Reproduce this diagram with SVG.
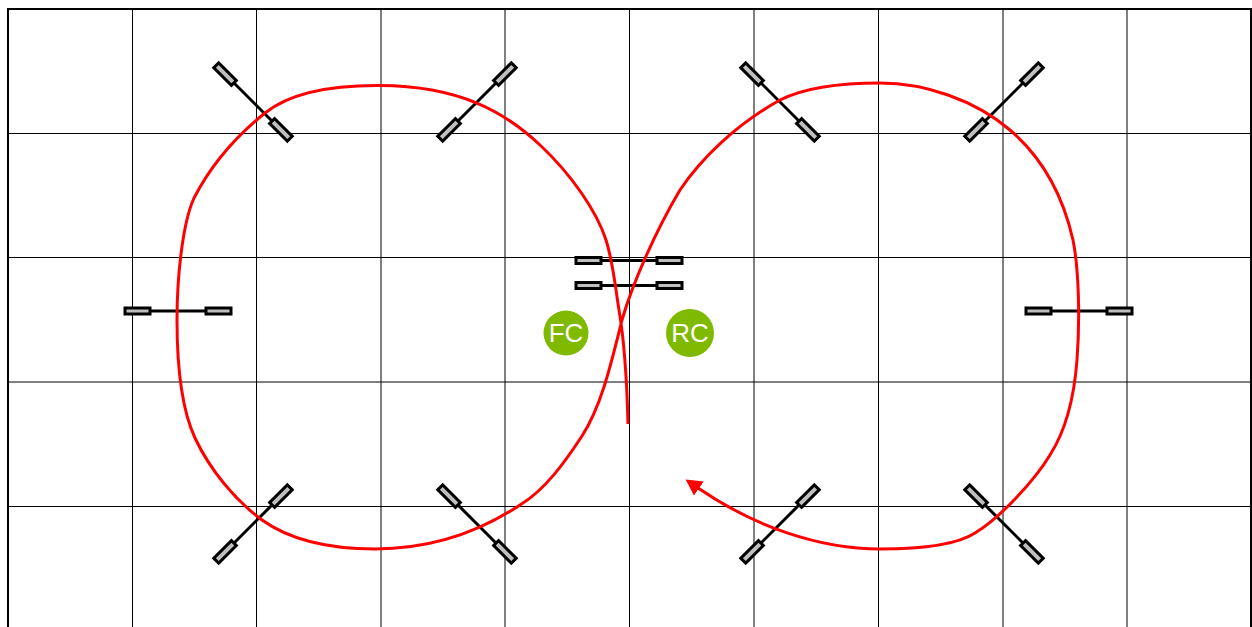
<svg xmlns="http://www.w3.org/2000/svg" width="1252" height="627" viewBox="0 0 1252 627">
<style>
.g{stroke:#000;stroke-width:1;fill:none}
.t{fill:#bfbfbf;stroke:#000;stroke-width:3}
.b{stroke:#000;stroke-width:3}
.n{fill:#7fba00}
.l{fill:#fff;font:26px "Liberation Sans",Arial,sans-serif;text-anchor:middle}
</style>
<defs>
<g id="dh"><line class="b" x1="-30" x2="30" y1="0" y2="0"/><rect class="t" x="-53" y="-3" width="25" height="6"/><rect class="t" x="28" y="-3" width="25" height="6"/></g>
<g id="dd"><line class="b" x1="-30" x2="30" y1="0" y2="0"/><rect class="t" x="-52" y="-3.500" width="25" height="7"/><rect class="t" x="27" y="-3.500" width="25" height="7"/></g>
<marker id="arr" markerUnits="userSpaceOnUse" markerWidth="20" markerHeight="18" refX="1" refY="8.500" orient="auto"><path d="M0 0L16 8.500L0 17Z" fill="#f00"/></marker>
</defs>
<rect width="1252" height="627" fill="#fff"/>
<g id="grid">
<path class="g" d="M132.500 9V627M256.500 9V627M381 9V627M505 9V627M629.500 9V627M754 9V627M878.500 9V627M1003 9V627M1127 9V627M8 133.500H1251M8 257.500H1251M8 382H1251M8 506.500H1251"/>
<path d="M8 627V9H1251V627" fill="none" stroke="#000" stroke-width="2"/>
</g>
<g id="track-1"><use href="#dd" transform="translate(253 102) rotate(45)"/></g>
<g id="track-2"><use href="#dd" transform="translate(477 102) rotate(-45)"/></g>
<g id="track-3"><use href="#dd" transform="translate(780 102) rotate(45)"/></g>
<g id="track-4"><use href="#dd" transform="translate(1004 102) rotate(-45)"/></g>
<g id="track-5"><use href="#dd" transform="translate(253 524) rotate(-45)"/></g>
<g id="track-6"><use href="#dd" transform="translate(477 524) rotate(45)"/></g>
<g id="track-7"><use href="#dd" transform="translate(780 524) rotate(-45)"/></g>
<g id="track-8"><use href="#dd" transform="translate(1004 524) rotate(45)"/></g>
<g id="track-9"><use href="#dh" transform="translate(178 311)"/></g>
<g id="track-10"><use href="#dh" transform="translate(1079 311)"/></g>
<g id="track-11"><use href="#dh" transform="translate(629 260.500)"/></g>
<g id="track-12"><use href="#dh" transform="translate(629 285.500)"/></g>
<g id="connectors">
<path fill="none" stroke="#f00" stroke-width="3" marker-end="url(#arr)" d="M628 424C627 385 625 345 619 310C615 285 613 262 606 240C597 212 572 175 540 145C505 112 460 86 380 85.500C320 85 285 97 265 113C235 137 210 167 194 198C183 222 177 275 177 320C177 365 182 410 195 438C210 470 235 500 262 520C290 540 330 549 375 549C425 549 475 535 520 505C545 490 565 462 582 436C602 405 612 360 622 320C632 285 655 232 680 190C700 160 735 125 780 100C810 85 850 83 880 83C925 83 975 100 1010 130C1045 160 1064 200 1073 240C1079 270 1080 320 1077 360C1074 400 1066 430 1050 455C1035 480 1000 518 975 533C955 546 915 549 880 549C820 549 755 527 698 488"/>
</g>
<g id="fc"><circle class="n" cx="566" cy="333" r="22.500"/><text class="l" x="566" y="341.500">FC</text></g>
<g id="rc"><circle class="n" cx="690" cy="333" r="24"/><text class="l" x="690" y="341.500">RC</text></g>
</svg>
